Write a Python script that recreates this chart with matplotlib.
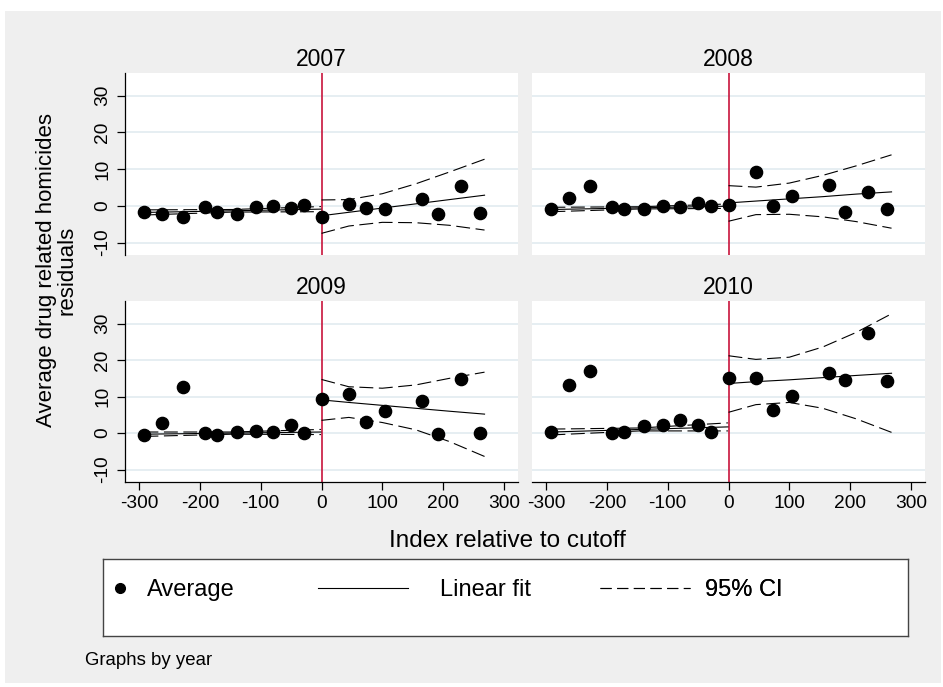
import matplotlib
matplotlib.use('Agg')
import matplotlib.pyplot as plt
from matplotlib.lines import Line2D
from matplotlib.patches import Rectangle

plt.rcParams['font.family'] = ['Liberation Sans', 'DejaVu Sans']
plt.rcParams['axes.unicode_minus'] = False

# Bin averages (x = index relative to cutoff)
years = ['2007', '2008', '2009', '2010']
bin_x = [-291, -262, -227, -191, -171, -139, -107, -80, -50, -28,
         1, 45, 73, 105, 166, 192, 230, 260]

avg_2007 = [-1.7, -2.2, -3.1, -0.4, -1.7, -2.3, -0.4, -0.1, -0.5, 0.1,
            -3.0, 0.5, -0.6, -0.9, 1.8, -2.1, 5.5, -1.9]
avg_2008 = [-0.9, 2.0, 5.4, -0.4, -1.0, -1.0, 0.0, -0.3, 0.8, 0.0,
            0.2, 9.1, 0.0, 2.7, 5.6, -1.7, 3.8, -1.0]
avg_2009 = [-0.5, 2.8, 12.6, -0.1, -0.6, 0.3, 0.5, 0.4, 2.2, -0.1,
            9.4, 10.7, 3.0, 6.0, 8.8, -0.2, 14.8, 0.0]
avg_2010 = [0.3, 13.1, 16.9, -0.1, 0.4, 1.9, 2.2, 3.5, 2.2, 0.2,
            15.0, 15.1, 6.4, 10.3, 16.5, 14.5, 27.4, 14.2]

# Linear fit and 95% CI, left of cutoff (read at left_x)
left_x = [-291, -146, -1]
fit_left_2007 = [-1.8, -1.35, -0.9]
lo_left_2007 = [-2.5, -1.7, -1.6]
hi_left_2007 = [-1.1, -1.0, -0.2]
fit_left_2008 = [-1.0, -0.55, -0.1]
lo_left_2008 = [-1.6, -0.85, -0.7]
hi_left_2008 = [-0.4, -0.25, 0.5]
fit_left_2009 = [-0.3, 0.0, 0.3]
lo_left_2009 = [-0.9, -0.3, -0.4]
hi_left_2009 = [0.3, 0.3, 1.0]
fit_left_2010 = [0.3, 1.0, 1.7]
lo_left_2010 = [-0.5, 0.6, 0.6]
hi_left_2010 = [1.1, 1.4, 2.8]

# Linear fit and 95% CI, right of cutoff (read at right_x)
right_x = [0, 45, 100, 155, 210, 268]
fit_right_2007 = [-2.7, -1.76, -0.61, 0.54, 1.69, 2.9]
lo_right_2007 = [-7.5, -5.5, -4.5, -4.6, -5.3, -6.6]
hi_right_2007 = [1.6, 1.7, 3.3, 6.0, 9.2, 12.7]
fit_right_2008 = [0.8, 1.3, 1.9, 2.5, 3.2, 3.8]
lo_right_2008 = [-4.2, -2.4, -2.3, -3.0, -4.3, -6.1]
hi_right_2008 = [5.5, 5.1, 6.2, 8.3, 10.9, 13.9]
fit_right_2009 = [9.1, 8.4, 7.6, 6.8, 6.0, 5.2]
lo_right_2009 = [3.5, 4.3, 2.9, 0.9, -2.3, -6.4]
hi_right_2009 = [14.7, 12.7, 12.3, 13.2, 15.0, 16.7]
fit_right_2010 = [13.6, 14.1, 14.6, 15.2, 15.8, 16.4]
lo_right_2010 = [5.7, 7.8, 8.4, 6.8, 3.9, 0.2]
hi_right_2010 = [21.2, 20.2, 20.8, 23.6, 27.6, 32.7]

x_ticks = [-300, -200, -100, 0, 100, 200, 300]
y_ticks = [-10, 0, 10, 20, 30]

series = {
    '2007': (avg_2007, fit_left_2007, lo_left_2007, hi_left_2007,
             fit_right_2007, lo_right_2007, hi_right_2007),
    '2008': (avg_2008, fit_left_2008, lo_left_2008, hi_left_2008,
             fit_right_2008, lo_right_2008, hi_right_2008),
    '2009': (avg_2009, fit_left_2009, lo_left_2009, hi_left_2009,
             fit_right_2009, lo_right_2009, hi_right_2009),
    '2010': (avg_2010, fit_left_2010, lo_left_2010, hi_left_2010,
             fit_right_2010, lo_right_2010, hi_right_2010),
}

W, H = 943, 687


def px_box(x0, y0, x1, y1):
    return [x0 / W, 1 - y1 / H, (x1 - x0) / W, (y1 - y0) / H]


fig = plt.figure(figsize=(W / 100, H / 100), dpi=100)
fig.patch.set_facecolor('white')
fig.add_artist(Rectangle((5 / W, 1 - 683 / H), 936 / W, 672 / H,
                         transform=fig.transFigure, facecolor='#efefef',
                         edgecolor='none', zorder=-10))

panel_px = {'2007': (125, 73, 518, 255), '2008': (532, 73, 925, 255),
            '2009': (125, 301, 518, 482), '2010': (532, 301, 925, 482)}

red = '#c8143c'
grid_col = '#e4edf1'
dash = (0, (12.5, 5))

for i, yr in enumerate(years):
    avg, fl, ll, hl, fr, lr, hr = series[yr]
    left_col = i % 2 == 0
    bottom_row = i >= 2
    ax = fig.add_axes(px_box(*panel_px[yr]))
    ax.set_facecolor('white')
    ax.set_xlim(-323, 323)
    ax.set_ylim(-13.4, 36.2)
    ax.set_xticks(x_ticks)
    ax.set_yticks(y_ticks)
    for yv in y_ticks:
        ax.axhline(yv, color=grid_col, lw=1.3, zorder=0)
    ax.axvline(0, color=red, lw=1.2, zorder=2)

    ax.plot(left_x, ll, color='k', ls=dash, lw=0.8, zorder=3)
    ax.plot(left_x, hl, color='k', ls=dash, lw=0.8, zorder=3)
    ax.plot(left_x, fl, color='k', lw=0.8, zorder=3)
    ax.plot(right_x, lr, color='k', ls=dash, lw=0.8, zorder=3)
    ax.plot(right_x, hr, color='k', ls=dash, lw=0.8, zorder=3)
    ax.plot(right_x, fr, color='k', lw=0.8, zorder=3)
    ax.plot(bin_x, avg, 'o', color='k', ms=8.8, zorder=5)

    ax.set_title(yr, fontsize=16.5, pad=5)
    for s in ['top', 'right']:
        ax.spines[s].set_visible(False)
    ax.spines['left'].set_visible(left_col)
    ax.spines['bottom'].set_visible(bottom_row)
    ax.spines['left'].set_linewidth(0.9)
    ax.spines['bottom'].set_linewidth(0.9)

    if left_col:
        ax.tick_params(axis='y', length=6, width=0.9, pad=4, labelsize=13.8)
        ax.set_yticklabels([str(v) for v in y_ticks], rotation=90, va='center')
    else:
        ax.tick_params(axis='y', length=0, labelleft=False)
    if bottom_row:
        ax.tick_params(axis='x', length=6, width=0.9, pad=3.5, labelsize=13.8)
    else:
        ax.tick_params(axis='x', length=0, labelbottom=False)

fig.text(507 / W, 1 - 546.7 / H, 'Index relative to cutoff', ha='center',
         va='baseline', fontsize=17.5)
fig.text(57 / W, 1 - 270 / H, 'Average drug related homicides\nresiduals',
         rotation=90, ha='center', va='center', multialignment='center',
         fontsize=16, linespacing=1.0)

# legend box
ax_leg = fig.add_axes(px_box(103, 559, 908, 636))
ax_leg.set_facecolor('white')
ax_leg.set_xticks([])
ax_leg.set_yticks([])
for s in ax_leg.spines.values():
    s.set_edgecolor('#444444')
    s.set_linewidth(1.0)

h_avg = Line2D([], [], marker='o', color='k', ls='none', ms=7)
h_fit = Line2D([], [], color='k', lw=0.8)
h_ci = Line2D([], [], color='k', lw=0.8, ls=(0, (10, 5)))
leg_specs = [(h_avg, 'Average', 0.0065, 1.0, 0.64),
             (h_fit, 'Linear fit', 0.267, 3.81, 1.36),
             (h_ci, '95% CI', 0.617, 3.81, 0.64)]
for h, lab, xf, hlen, tpad in leg_specs:
    leg = ax_leg.legend([h], [lab], loc='center left', bbox_to_anchor=(xf, 0.6),
                        frameon=False, fontsize=17, handlelength=hlen,
                        handletextpad=tpad, borderpad=0, borderaxespad=0)
    ax_leg.add_artist(leg)

fig.text(85 / W, 1 - 665 / H, 'Graphs by year', ha='left', va='baseline',
         fontsize=13.4)

fig.savefig('out.png', dpi=100)
